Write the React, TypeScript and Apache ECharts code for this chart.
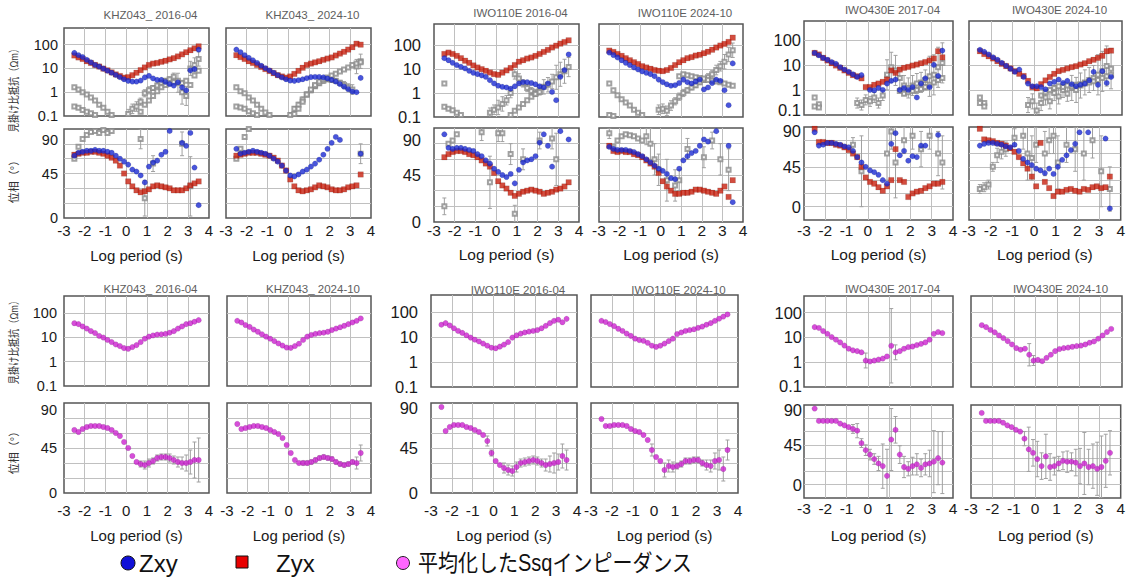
import React, { useEffect, useRef } from "react";
import * as echarts from "echarts";

const N = null;

// log10 of period (s) at which the curves were read
const periods = [-2.5,-2.3,-2.1,-1.9,-1.7,-1.5,-1.3,-1.1,-0.9,-0.7,-0.5,-0.3,-0.1,0.1,0.3,0.5,0.7,0.9,1.1,1.3,1.5,1.7,1.9,2.1,2.3,2.5,2.7,2.9,3.1,3.3,3.5];

const panelTitles = ["KHZ043_ 2016-04","KHZ043_ 2024-10","IWO110E 2016-04","IWO110E 2024-10","IWO430E 2017-04","IWO430E 2024-10"];
const rhoTickLabels: Record<string, string> = { "-1": "0.1", "0": "1", "1": "10", "2": "100" };
const phaseTickLabels = [0, 45, 90];
const legendLabels = ["Zxy", "Zyx", "平均化したSsqインピーダンス"];
const rhoAxisName = "見掛け比抵抗（Ωm）";
const phaseAxisName = "位相（°）";
const periodAxisName = "Log period (s)";

// ---------- KHZ043 2016-04 ----------
const khz16_zxyRho = [45,36,30,23,18,14,12,9.8,8,6.6,5.3,4.3,3.5,3.0,2.8,2.8,3.1,4.2,4.9,3.8,3.3,3.3,2.7,2.2,1.9,2.6,1.6,1.2,8.3,9.4,62];
const khz16_zyxRho = [35,29,25,20,17,14,12,9.8,8.3,6.8,5.6,4.8,4.1,4.3,5.2,6.6,8.5,11,14,16,17,19,21,24,27,32,39,48,58,70,85];
const khz16_zxyPh = [63,66,67,68,68,69,68,68,67,66,63,60,57,54,49,47,43,36,52,56,58,64,67,88,N,N,76,73,86,51,13];
const khz16_zyxPh = [64,65,66,66,67,67,66,65,63,61,58,53,45,37,32,28,26,27,29,32,33,32,31,30,28,28,28,30,33,35,37];
const khz16_diagRho1 = [1.6,1.3,1.0,0.8,0.6,0.45,0.3,0.22,0.15,0.11,N,N,N,0.12,0.2,0.25,0.4,0.9,1.2,1.5,1.9,2.5,3.0,3.5,4.5,2.5,1.0,0.7,10,14,25];
const khz16_diagRho2 = [0.25,0.22,0.18,0.15,0.13,0.11,N,N,N,N,N,N,N,N,N,N,0.15,0.3,0.45,0.7,1.1,1.6,2.0,2.4,2.6,3.0,2.4,3.0,2.0,5,8];
const khz16_diagRhoErr = [0,0,0,0,0,0,0,0,0,0,0,0,0,0.2,0.2,0.2,0.15,0.15,0.15,0.1,0.1,0.1,0.1,0.1,0.15,0.4,0.5,0.4,0.3,0.3,0.3];
const khz16_diagPh = [60,72,80,84,87,88,86,89,86,88,N,N,N,N,N,N,80,20,N,55,N,N,N,N,N,N,75,N,32,N,N];
const khz16_diagPhErr = [0,0,0,0,0,0,0,0,0,0,0,0,0,0,0,0,10,18,0,8,0,0,0,0,0,0,12,0,30,0,0];

// ---------- KHZ043 2024-10 ----------
const khz24_zxyRho = [62,48,36,28,22,17,13,10.2,8.2,6.6,5.2,4.2,3.5,3.1,3.0,3.2,3.5,3.9,4.3,4.4,4.4,4.2,3.8,3.3,2.8,2.2,1.7,1.35,1.07,1.0,4];
const khz24_zyxRho = [36,30,25,20,17,14,11.5,9.4,7.8,6.3,5.2,4.6,4.1,4.6,5.9,7.9,10.7,14,16,18,20,23,26,29,35,42,50,62,78,110,100];
const khz24_zxyPh = [70,65,66,67,68,67,66,65,63,60,57,53,48,43,42,44,47,49,52,55,59,64,70,76,82,79,N,N,N,N,65];
const khz24_zyxPh = [63,64,65,66,66,66,65,64,63,61,58,53,48,39,32,28,27,28,29,31,33,32,31,29,28,28,29,31,32,33,44];
const khz24_diagRho1 = [1.6,1.1,0.9,0.6,0.45,0.3,0.2,0.14,0.11,N,N,N,N,0.11,0.2,0.3,0.5,0.8,1.2,1.8,2.4,3.0,3.5,3.3,3.0,2.5,2.0,1.6,1.3,12,20];
const khz24_diagRho2 = [0.25,0.23,0.2,0.16,0.13,0.11,N,N,N,N,N,N,N,N,0.12,0.2,0.4,0.8,1.3,2.0,2.8,3.5,4.2,5,6,7.5,9,11,14,16,18];
const khz24_diagRhoErr = [0,0,0,0,0,0,0,0,0,0,0,0,0,0.1,0.1,0.1,0.1,0.1,0.1,0.1,0.1,0.1,0.1,0.1,0.1,0.1,0.15,0.15,0.2,0.3,0.3];
const khz24_diagPh = [60,70,82,90,N,N,N,N,N,N,N,N,N,N,N,N,N,N,N,N,N,N,N,N,N,N,N,N,N,N,65];
const khz24_diagPhErr = [0,0,0,0,0,0,0,0,0,0,0,0,0,0,0,0,0,0,0,0,0,0,0,0,0,0,0,0,0,0,10];

// ---------- IWO110E 2016-04 ----------
const iwo110_16_zxyRho = [28,23,18,14.5,12.3,10.5,8.4,6.9,6.1,5.4,4.7,3.4,2.5,2.0,1.8,1.7,1.5,1.9,2.5,2.8,2.8,2.6,2.3,1.9,1.7,2.5,1.1,0.5,4.7,9,40];
const iwo110_16_zyxRho = [42,48,42,35,28,22,18,14,11.5,9.8,8.4,7.1,6.1,5.7,7,8.7,11,14.5,20,23,27,30,35,42,51,62,78,93,113,132,155];
const iwo110_16_zxyPh = [84,71,70,71,71,70,69,68,65,63,59,56,51,48,45,43,46,37,50,57,59,60,63,76,84,73,53,N,87,N,79];
const iwo110_16_zyxPh = [62,65,67,68,68,67,65,64,62,59,56,53,47,39,35,32,28,25,27,29,30,31,30,29,27,28,29,31,32,34,38];
const iwo110_16_diagRho1 = [2.5,N,N,N,N,N,N,N,N,N,N,0.15,0.2,0.25,0.35,0.5,1.0,6,4,2.5,1.6,1.2,1.0,1.3,1.8,2.2,3.0,4.5,6,8,12];
const iwo110_16_diagRho2 = [0.27,0.22,0.19,0.15,0.12,N,N,N,N,N,N,N,N,N,N,N,0.12,0.18,0.25,0.35,0.5,0.7,0.9,1.1,N,N,N,N,N,N,N];
const iwo110_16_diagRhoErr = [0,0,0,0,0,0,0,0,0,0,0,0.2,0.2,0.3,0.3,0.2,0.2,0.2,0.2,0.15,0.15,0.15,0.15,0.2,0.3,0.3,0.3,0.5,0.5,0.5,0.4];
const iwo110_16_diagPh = [15,75,78,84,N,N,N,N,N,86,N,38,N,85,85,N,65,8,N,60,N,N,N,78,N,N,80,60,N,N,N];
const iwo110_16_diagPhErr = [8,0,0,0,0,0,0,0,0,8,0,25,0,8,8,0,10,8,0,10,0,0,0,8,0,0,10,25,0,0,0];

// ---------- IWO110E 2024-10 ----------
const iwo110_24_zxyRho = [48,38,30,23,18,14.5,11.5,9.5,7.9,6.9,6.1,5,3.6,2.8,2.3,2.0,2.1,2.6,3.6,2.8,2.5,3.0,3.6,1.4,1.7,2.6,3.6,3.2,1.3,0.31,17];
const iwo110_24_zyxRho = [58,51,42,35,28,23,19,16,13,11.5,10.2,9,8.4,8.1,9,11,14.5,19,23,28,31,36,39,45,52,63,78,94,110,133,200];
const iwo110_24_zxyPh = [72,70,69,69,69,68,67,65,63,60,57,54,51,49,46,42,41,51,59,63,66,68,73,79,77,N,87,N,N,73,19];
const iwo110_24_zyxPh = [73,68,67,68,67,67,65,64,62,59,56,53,47,39,34,30,27,27,28,28,29,31,31,30,29,28,27,30,34,24,40];
const iwo110_24_diagRho1 = [2.5,1.3,0.8,0.55,0.4,0.3,0.2,0.15,0.12,N,N,N,0.2,0.22,0.18,0.3,0.45,0.7,1.0,1.3,1.7,2.1,2.8,3.5,4.5,6,9,13,20,40,60];
const iwo110_24_diagRho2 = [0.12,0.11,N,N,N,N,N,N,N,N,N,N,N,N,N,N,N,5,6,5.5,5,4.5,4.2,4.0,3.5,3.2,3.0,2.8,2.5,2.2,2.0];
const iwo110_24_diagRhoErr = [0,0,0,0,0,0,0,0,0,0,0,0,0.2,0.2,0.2,0.2,0.15,0.15,0.15,0.1,0.1,0.1,0.1,0.1,0.15,0.15,0.2,0.2,0.3,0.3,0.3];
const iwo110_24_diagPh = [85,72,78,82,84,83,82,80,78,82,75,60,50,N,40,N,35,40,N,70,N,N,N,62,N,78,N,60,N,50,N];
const iwo110_24_diagPhErr = [5,0,0,0,0,0,0,0,0,8,15,15,15,0,20,0,15,10,0,10,0,0,0,10,0,8,0,15,0,20,0];

// ---------- IWO430E 2017-04 ----------
const iwo430_17_zxyRho = [30,24,19,16,13,11,8.1,6.5,5.3,4.2,3.3,3.9,N,1.0,0.96,1.2,1.0,1.8,2.3,2.6,1.0,1.2,1.0,1.3,0.5,1.8,2.9,1.3,10,3.6,37];
const iwo430_17_zyxRho = [30,26,19,15,11.6,9.4,7.6,6,4.8,3.9,3.5,2.9,1.3,1.3,1.6,1.8,2.1,2.6,6,4.8,6.5,7.6,8.3,9.4,10.3,11.6,13,15,18,35,20];
const iwo430_17_zxyPh = [84,69,70,72,72,71,70,68,67,63,56,50,45,41,39,36,30,26,71,83,58,63,52,57,56,69,69,N,N,81,N];
const iwo430_17_zyxPh = [88,73,73,72,72,70,69,67,64,60,56,45,33,28,26,22,18,23,30,65,30,28,11,15,17,18,21,23,26,26,28];
const iwo430_17_diagRho1 = [0.5,0.27,N,N,N,N,N,N,N,N,0.3,0.25,0.4,0.35,0.5,0.3,0.6,4,8,6,3,1.5,1.2,1.5,1.8,2.0,2.5,3.5,4,8,12];
const iwo430_17_diagRho2 = [0.22,0.2,N,N,N,N,N,N,N,N,N,N,N,N,N,N,N,N,N,N,0.9,0.7,0.8,0.9,1.0,1.1,1.3,1.6,2,2.5,3];
const iwo430_17_diagRhoErr = [0,0,0,0,0,0,0,0,0,0,0.2,0.2,0.2,0.2,0.2,0.2,0.2,0.6,0.6,0.6,0.4,0.4,0.4,0.4,0.4,0.4,0.4,0.8,0.8,0.8,0.8];
const iwo430_17_diagPh = [N,N,N,N,N,N,N,N,N,70,N,40,N,N,N,N,N,60,85,50,N,75,N,80,N,65,N,80,N,60,50];
const iwo430_17_diagPhErr = [0,0,0,0,0,0,0,0,0,8,0,40,0,0,0,0,0,30,20,40,0,15,0,15,0,20,0,15,0,25,30];

// ---------- IWO430E 2024-10 ----------
const iwo430_24_zxyRho = [40,33,26,20,16,12,9.2,7,5.3,6.5,3.3,1.8,1.4,1.4,1.3,1.06,1.8,2.1,2.6,1.9,2.3,1.7,1.4,1.6,1.8,2.4,5.3,1.6,5.6,1.9,3.3];
const iwo430_24_zyxRho = [35,27,22,18,14,11,8.9,7.2,5.6,4.4,3.6,2.3,1.3,1.16,1.7,2.4,3.3,4.4,5.6,6.3,7.2,8.1,8.9,10.3,11.6,14,16,19,23,35,37];
const iwo430_24_zxyPh = [69,71,72,72,71,70,68,67,70,63,54,50,47,43,41,38,43,37,45,53,58,64,71,84,N,84,N,N,N,77,-2];
const iwo430_24_zyxPh = [88,76,75,74,72,71,69,66,62,56,49,43,34,23,72,28,21,12,17,17,19,20,18,17,20,19,22,23,21,22,34];
const iwo430_24_diagRho1 = [0.5,0.3,N,N,N,N,N,N,N,N,N,0.25,0.35,0.15,0.3,0.5,0.35,0.75,0.55,1.0,0.7,1.2,1.0,1.5,2.0,2.5,3.0,4.0,5.5,9,7];
const iwo430_24_diagRho2 = [0.3,0.22,N,N,N,N,N,N,N,N,N,N,N,N,0.6,0.8,1.0,1.2,1.4,1.3,1.5,1.4,1.6,1.7,1.8,2.0,2.2,2.5,3.0,3.5,4.0];
const iwo430_24_diagRhoErr = [0,0,0,0,0,0,0,0,0,0,0,0.3,0.3,0.3,0.3,0.3,0.3,0.3,0.3,0.3,0.3,0.5,0.5,0.5,0.5,0.5,0.5,0.8,0.8,0.8,0.8];
const iwo430_24_diagPh = [20,22,25,45,58,62,65,N,78,N,80,60,55,70,N,60,75,80,50,N,70,N,65,N,60,N,75,N,40,N,20];
const iwo430_24_diagPhErr = [5,5,5,5,8,8,8,0,10,0,15,30,25,20,0,25,15,20,30,0,20,0,25,0,30,0,20,0,40,0,25];

// ---------- averaged Ssq impedance ----------
const khz16_ssqRho = [38,35,28,23,18,15,11.4,9.8,7.8,6.4,5.1,4.4,3.6,3.4,4.0,4.8,6.4,8.8,10.7,12,13,13.4,14,15.6,18,23,28,35,38,44,51];
const khz16_ssqPh = [63,61,64,66,67,67,67,66,65,63,60,57,51,45,37,31,29,28,30,32,35,36,36,35,33,31,30,30,31,33,33];
const khz16_ssqPhErr = [0,0,0,0,0,0,0,0,0,0,0,0,0,0,0,0,3,4,4,3,3,3,3,4,4,5,6,8,12,18,22];

const khz24_ssqRho = [48,41,32,27,21,17,13.4,10.7,8.8,7.0,5.6,4.6,3.8,3.7,4.4,5.5,7.8,10.7,12.6,14,15,15.6,17,20,23,26,30,35,41,48,60];
const khz24_ssqPh = [69,64,65,66,67,67,66,65,63,61,59,55,48,40,33,30,30,30,31,33,35,36,35,34,31,29,28,29,31,30,40];
const khz24_ssqPhErr = [0,0,0,0,0,0,0,0,0,0,0,0,0,0,0,0,2,2,2,2,2,2,2,2,2,2,2,2,2,6,8];

const iwo110_16_ssqRho = [32,37,30,23,18,15,12,9.7,8,6.8,5.6,4.6,3.8,3.6,4.2,5.1,6.4,9.7,12,14,15.6,17,18,19.5,23,29,37,46,51,40,55];
const iwo110_16_ssqPh = [86,62,66,68,68,68,66,65,63,61,58,52,40,32,28,25,23,22,26,30,31,32,33,32,30,28,29,30,31,37,33];
const iwo110_16_ssqPhErr = [0,0,0,0,0,0,0,0,0,0,0,5,3,0,0,5,5,5,5,4,4,4,4,4,4,6,8,10,8,12,10];

const iwo110_24_ssqRho = [46,41,34,28,22,18,14,11.4,8.8,7.7,7.2,6,4.6,4.1,4.6,5.6,7,8.8,13.5,15.6,18,19.5,21,24,27,32,37,46,56,68,83];
const iwo110_24_ssqPh = [74,67,67,68,68,68,67,64,62,61,58,53,43,36,32,23,27,26,27,29,32,32,33,33,30,28,27,32,33,24,43];
const iwo110_24_ssqPhErr = [0,0,0,0,0,0,0,0,0,0,0,0,6,0,0,7,6,5,3,3,3,3,3,3,3,5,6,8,10,12,10];

const iwo430_17_ssqRho = [26,24,18,14,10.3,8.1,6.3,4.7,3.5,3.0,2.8,2.5,1.17,1.07,1.17,1.28,1.4,1.7,4.6,2.5,2.8,3.5,4.1,4.3,4.9,5.5,6.3,8.1,14,16.5,15];
const iwo430_17_ssqRhoErr = [0,0,0,0,0,0,0,0,0,0,0,0,0.3,0,0,0,0,0,1.5,0.3,0,0,0,0,0,0,0,0,0,0,0];
const iwo430_17_ssqPh = [86,72,72,72,72,72,69,67,65,63,61,47,39,34,29,24,21,10,51,62,34,20,18,21,23,19,23,24,26,30,25];
const iwo430_17_ssqPhErr = [0,0,0,0,0,0,0,0,0,5,8,5,6,6,6,8,25,30,35,15,10,12,8,10,12,10,12,15,35,30,35];

const iwo430_24_ssqRho = [31,26,20,16,12,9.4,7.1,5.2,3.7,3.2,3.5,2.0,1.17,1.24,1.1,1.5,2.0,2.8,3.4,3.7,3.9,4.2,4.5,4.7,5.2,6.1,6.9,8.9,12,16.5,22];
const iwo430_24_ssqRhoErr = [0,0,0,0,0,0,0,0,0,0,0,0.45,0.2,0,0,0,0,0,0,0,0,0,0,0,0,0,0,0,0,0,0];
const iwo430_24_ssqPh = [81,72,72,72,72,70,67,65,62,60,52,40,36,29,21,32,20,21,24,27,26,26,25,21,24,20,21,18,20,27,36];
const iwo430_24_ssqPhErr = [0,0,0,0,0,0,0,0,0,0,8,25,15,20,15,25,15,10,8,10,12,10,15,20,35,20,25,30,35,30,25];

// ---------- tables built from the arrays above ----------
const topSets = [
  { zxyRho: khz16_zxyRho, zyxRho: khz16_zyxRho, zxyPh: khz16_zxyPh, zyxPh: khz16_zyxPh, d1: khz16_diagRho1, d2: khz16_diagRho2, dErr: khz16_diagRhoErr, dPh: khz16_diagPh, dPhErr: khz16_diagPhErr },
  { zxyRho: khz24_zxyRho, zyxRho: khz24_zyxRho, zxyPh: khz24_zxyPh, zyxPh: khz24_zyxPh, d1: khz24_diagRho1, d2: khz24_diagRho2, dErr: khz24_diagRhoErr, dPh: khz24_diagPh, dPhErr: khz24_diagPhErr },
  { zxyRho: iwo110_16_zxyRho, zyxRho: iwo110_16_zyxRho, zxyPh: iwo110_16_zxyPh, zyxPh: iwo110_16_zyxPh, d1: iwo110_16_diagRho1, d2: iwo110_16_diagRho2, dErr: iwo110_16_diagRhoErr, dPh: iwo110_16_diagPh, dPhErr: iwo110_16_diagPhErr },
  { zxyRho: iwo110_24_zxyRho, zyxRho: iwo110_24_zyxRho, zxyPh: iwo110_24_zxyPh, zyxPh: iwo110_24_zyxPh, d1: iwo110_24_diagRho1, d2: iwo110_24_diagRho2, dErr: iwo110_24_diagRhoErr, dPh: iwo110_24_diagPh, dPhErr: iwo110_24_diagPhErr },
  { zxyRho: iwo430_17_zxyRho, zyxRho: iwo430_17_zyxRho, zxyPh: iwo430_17_zxyPh, zyxPh: iwo430_17_zyxPh, d1: iwo430_17_diagRho1, d2: iwo430_17_diagRho2, dErr: iwo430_17_diagRhoErr, dPh: iwo430_17_diagPh, dPhErr: iwo430_17_diagPhErr },
  { zxyRho: iwo430_24_zxyRho, zyxRho: iwo430_24_zyxRho, zxyPh: iwo430_24_zxyPh, zyxPh: iwo430_24_zyxPh, d1: iwo430_24_diagRho1, d2: iwo430_24_diagRho2, dErr: iwo430_24_diagRhoErr, dPh: iwo430_24_diagPh, dPhErr: iwo430_24_diagPhErr },
];
const bottomSets = [
  { rho: khz16_ssqRho, rhoErr: null, ph: khz16_ssqPh, phErr: khz16_ssqPhErr },
  { rho: khz24_ssqRho, rhoErr: null, ph: khz24_ssqPh, phErr: khz24_ssqPhErr },
  { rho: iwo110_16_ssqRho, rhoErr: null, ph: iwo110_16_ssqPh, phErr: iwo110_16_ssqPhErr },
  { rho: iwo110_24_ssqRho, rhoErr: null, ph: iwo110_24_ssqPh, phErr: iwo110_24_ssqPhErr },
  { rho: iwo430_17_ssqRho, rhoErr: iwo430_17_ssqRhoErr, ph: iwo430_17_ssqPh, phErr: iwo430_17_ssqPhErr },
  { rho: iwo430_24_ssqRho, rhoErr: iwo430_24_ssqRhoErr, ph: iwo430_24_ssqPh, phErr: iwo430_24_ssqPhErr },
];

// ---------- layout (pixel positions of panels) ----------
type Lay = { l: number; r: number; rt: number; rb: number; pt: number; pb: number; rMax: number; pMin: number; labY: number; nameY: number; yGap: number; yFs: number; xFs: number; titleY: number; topShift: number; botShift: number; showY: boolean };
const g1t = { rt: 28, rb: 116, pt: 129, pb: 218, rMax: 2.7, pMin: 0, labY: 230, nameY: 255, yGap: 6, yFs: 14.5, xFs: 15, titleY: 15, topShift: 11, botShift: 0 };
const g2t = { rt: 24, rb: 117, pt: 128, pb: 222, rMax: 2.87, pMin: 0, labY: 230, nameY: 254, yGap: 13, yFs: 16.5, xFs: 15.5, titleY: 13, topShift: 12, botShift: 0 };
const g3t = { rt: 21, rb: 115, pt: 127, pb: 220, rMax: 2.75, pMin: -15, labY: 230, nameY: 254, yGap: 3, yFs: 16.5, xFs: 15.5, titleY: 10, topShift: 4, botShift: 5 };
const g1b = { rt: 296, rb: 386, pt: 403, pb: 493, rMax: 2.7, pMin: 0, labY: 510, nameY: 535, yGap: 7, yFs: 14.5, xFs: 15, titleY: 289, topShift: 7, botShift: 0 };
const g2b = { rt: 295, rb: 387, pt: 403, pb: 493, rMax: 2.7, pMin: 0, labY: 510, nameY: 535, yGap: 13, yFs: 16.5, xFs: 15.5, titleY: 290, topShift: 5, botShift: 0 };
const g3b = { rt: 296, rb: 387, pt: 405, pb: 498, rMax: 2.67, pMin: -15, labY: 508, nameY: 535, yGap: 2, yFs: 16.5, xFs: 15.5, titleY: 289, topShift: 5, botShift: 1 };
const topLay: Lay[] = [
  { l: 64, r: 209, ...g1t, showY: true }, { l: 226, r: 371, ...g1t, showY: false },
  { l: 434, r: 579, ...g2t, showY: true }, { l: 599, r: 743, ...g2t, showY: false },
  { l: 804, r: 953, ...g3t, showY: true }, { l: 969, r: 1122, ...g3t, showY: false },
];
const botLay: Lay[] = [
  { l: 64, r: 209, ...g1b, showY: true }, { l: 227, r: 371, ...g1b, showY: false },
  { l: 431, r: 577, ...g2b, showY: true }, { l: 591, r: 738, ...g2b, showY: false },
  { l: 804, r: 953, ...g3b, showY: true }, { l: 971, r: 1122, ...g3b, showY: false },
];

const FONT = '"Liberation Sans", Arial, "Noto Sans CJK JP", sans-serif';
const BLUE = "#1b2bd2";
const RED = "#c8200f";
const MAG = "#cc22cf";
const GRAY = "#8a8a8a";
const ERR = "#a0a0a0";
const TXT = "#1a1a1a";

function pts(vals: (number | null)[], log: boolean) {
  const out: number[][] = [];
  periods.forEach((t, i) => {
    const v = vals[i];
    if (v == null) return;
    out.push([t, log ? Math.log10(v) : v]);
  });
  return out;
}
function errs(vals: (number | null)[], e: (number | null)[] | null, log: boolean) {
  const out: number[][] = [];
  if (!e) return out;
  periods.forEach((t, i) => {
    const v = vals[i];
    const d = e[i];
    if (v == null || !d) return;
    const c = log ? Math.log10(v) : v;
    out.push([t, c - d, c + d]);
  });
  return out;
}

const errRender = (params: any, api: any) => {
  const x = api.value(0);
  const p1 = api.coord([x, api.value(1)]);
  const p2 = api.coord([x, api.value(2)]);
  const w = 2;
  const style = { stroke: ERR, lineWidth: 1 };
  return {
    type: "group",
    children: [
      { type: "line", shape: { x1: p1[0], y1: p1[1], x2: p2[0], y2: p2[1] }, style },
      { type: "line", shape: { x1: p1[0] - w, y1: p1[1], x2: p1[0] + w, y2: p1[1] }, style },
      { type: "line", shape: { x1: p2[0] - w, y1: p2[1], x2: p2[0] + w, y2: p2[1] }, style },
    ],
  };
};

function isInt(v: number) {
  return Math.abs(v - Math.round(v)) < 1e-6;
}

function buildOption() {
  const grid: any[] = [];
  const xAxis: any[] = [];
  const yAxis: any[] = [];
  const series: any[] = [];
  const graphic: any[] = [];

  const split = { show: true, showMinLine: false, showMaxLine: false, lineStyle: { color: "#c0c0c0", width: 1 } };

  const addPanel = (lay: Lay, title: string) => {
    const gi = grid.length;
    const w = lay.r - lay.l;
    grid.push({ left: lay.l, top: lay.rt, width: w, height: lay.rb - lay.rt, show: true, borderColor: "#555", borderWidth: 1.5, backgroundColor: "transparent" });
    grid.push({ left: lay.l, top: lay.pt, width: w, height: lay.pb - lay.pt, show: true, borderColor: "#555", borderWidth: 1.5, backgroundColor: "transparent" });
    const base = { fontSize: lay.yFs, fontFamily: FONT, color: TXT };
    xAxis.push({ type: "value", gridIndex: gi, min: -3, max: 4, interval: 1, axisLine: { show: false }, axisTick: { show: false }, axisLabel: { show: false }, splitLine: split });
    xAxis.push({
      type: "value", gridIndex: gi + 1, min: -3, max: 4, interval: 1,
      axisLine: { show: false }, axisTick: { show: false }, splitLine: split,
      axisLabel: { show: true, margin: lay.labY - lay.xFs / 2 - lay.pb, fontSize: lay.xFs, color: TXT, fontFamily: FONT, showMinLabel: true, showMaxLabel: true },
      name: periodAxisName, nameLocation: "middle", nameGap: lay.nameY - lay.xFs / 2 - lay.pb,
      nameTextStyle: { fontSize: lay.xFs, color: TXT, fontFamily: FONT },
    });
    yAxis.push({
      type: "value", gridIndex: gi, min: -1, max: lay.rMax, interval: 1,
      axisLine: { show: false }, axisTick: { show: false }, splitLine: split,
      axisLabel: {
        show: lay.showY, margin: lay.yGap, ...base,
        formatter: (v: number) => {
          if (!isInt(v)) return "";
          const s = rhoTickLabels[String(Math.round(v))] ?? "";
          return Math.round(v) === -1 && s ? `{bot|${s}}` : s;
        },
        rich: { bot: { ...base, padding: [0, 0, lay.botShift * 2, 0] } },
      },
    });
    yAxis.push({
      type: "value", gridIndex: gi + 1, min: lay.pMin, max: 90, interval: 15,
      axisLine: { show: false }, axisTick: { show: false }, splitLine: split,
      axisLabel: {
        show: lay.showY, margin: lay.yGap, ...base,
        formatter: (v: number) => {
          if (!isInt(v) || !phaseTickLabels.includes(Math.round(v))) return "";
          const r = Math.round(v);
          return r === 90 ? `{top|${r}}` : String(r);
        },
        rich: { top: { ...base, padding: [lay.topShift * 2, 0, 0, 0] } },
      },
    });
    graphic.push({
      type: "text", x: (lay.l + lay.r) / 2 + 14, y: lay.titleY, silent: true,
      style: { text: title, font: `11.5px ${FONT}`, fill: "#5e5e5e", textAlign: "center", textVerticalAlign: "middle" },
    });
    return gi;
  };

  const scatter = (gi: number, data: number[][], symbol: string, size: number, color: string, z: number) => ({
    type: "scatter", xAxisIndex: gi, yAxisIndex: gi, data, symbol, symbolSize: size,
    itemStyle: symbol.startsWith("empty") ? { color, borderColor: color, borderWidth: 1 } : { color, borderColor: "rgba(0,0,0,0.25)", borderWidth: 0.5 },
    clip: true, silent: true, z,
  });
  const errSeries = (gi: number, data: number[][]) => ({
    type: "custom", xAxisIndex: gi, yAxisIndex: gi, data, renderItem: errRender,
    encode: { x: 0, y: [1, 2] }, clip: true, silent: true, z: 1,
  });

  topLay.forEach((lay, p) => {
    const d = topSets[p];
    const gi = addPanel(lay, panelTitles[p]);
    series.push(errSeries(gi, errs(d.d1, d.dErr, true)));
    series.push(scatter(gi, pts(d.d1, true), "emptyRect", 4, GRAY, 2));
    series.push(scatter(gi, pts(d.d2, true), "emptyRect", 4, GRAY, 2));
    series.push(scatter(gi, pts(d.zyxRho, true), "rect", 5.5, RED, 3));
    series.push(scatter(gi, pts(d.zxyRho, true), "circle", 5.5, BLUE, 4));
    series.push(errSeries(gi + 1, errs(d.dPh, d.dPhErr, false)));
    series.push(scatter(gi + 1, pts(d.dPh, false), "emptyRect", 4, GRAY, 2));
    series.push(scatter(gi + 1, pts(d.zyxPh, false), "rect", 5.5, RED, 3));
    series.push(scatter(gi + 1, pts(d.zxyPh, false), "circle", 5.5, BLUE, 4));
  });
  botLay.forEach((lay, p) => {
    const d = bottomSets[p];
    const gi = addPanel(lay, panelTitles[p]);
    series.push(errSeries(gi, errs(d.rho, d.rhoErr, true)));
    series.push(scatter(gi, pts(d.rho, true), "circle", 5.5, MAG, 3));
    series.push(errSeries(gi + 1, errs(d.ph, d.phErr, false)));
    series.push(scatter(gi + 1, pts(d.ph, false), "circle", 5.5, MAG, 3));
  });

  // vertical axis names (left column only)
  const vName = (text: string, y: number, sx: number) => ({
    type: "text", x: 14, y, rotation: Math.PI / 2, scaleX: sx, silent: true,
    style: { text, font: `11px ${FONT}`, fill: "#333", textAlign: "center", textVerticalAlign: "middle" },
  });
  graphic.push(vName(rhoAxisName, 88, 0.84), vName(phaseAxisName, 179, 1), vName(rhoAxisName, 340, 0.84), vName(phaseAxisName, 450, 1));

  // legend
  const ly = 563;
  graphic.push(
    { type: "circle", shape: { cx: 128, cy: ly, r: 7 }, style: { fill: "#1010d8", stroke: "#111", lineWidth: 1 }, silent: true },
    { type: "text", x: 139, y: ly, silent: true, style: { text: legendLabels[0], font: `24px ${FONT}`, fill: "#111", textVerticalAlign: "middle" } },
    { type: "rect", shape: { x: 236, y: ly - 7, width: 12, height: 12 }, style: { fill: "#e80000", stroke: "#111", lineWidth: 1 }, silent: true },
    { type: "text", x: 276, y: ly, silent: true, style: { text: legendLabels[1], font: `24px ${FONT}`, fill: "#111", textVerticalAlign: "middle" } },
    { type: "circle", shape: { cx: 403, cy: ly, r: 6.5 }, style: { fill: "#ff66ff", stroke: "#222", lineWidth: 1 }, silent: true },
    { type: "text", x: 418, y: ly, scaleX: 0.87, silent: true, style: { text: legendLabels[2], font: `23px ${FONT}`, fill: "#111", textVerticalAlign: "middle" } },
  );

  return { animation: false, backgroundColor: "#ffffff", grid, xAxis, yAxis, series, graphic };
}

export default function App() {
  const ref = useRef<HTMLDivElement>(null);
  useEffect(() => {
    if (!ref.current) return;
    const chart = echarts.init(ref.current, undefined, { renderer: "svg" });
    chart.setOption(buildOption() as any);
    return () => chart.dispose();
  }, []);
  return <div ref={ref} style={{ position: "absolute", left: 0, top: 0, width: 1128, height: 577, background: "#fff" }} />;
}
